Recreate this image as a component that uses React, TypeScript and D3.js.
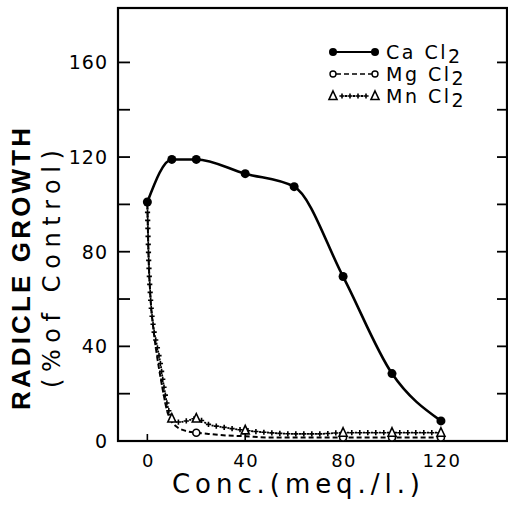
import React, { useEffect, useRef } from "react";
import * as d3 from "d3";

const caConc = [0, 10, 20, 40, 60, 80, 100, 120];
const caValues = [101, 119, 119, 113, 107.5, 69.5, 28.5, 8.5];

const mgConc = [0, 0.5, 1.2, 2.4, 3.8, 5.2, 6.6, 8, 9.5, 12, 15, 20, 25, 30, 40, 50, 60, 70, 80, 90, 100, 110, 120];
const mgValues = [100, 78, 62, 48, 37, 28, 20, 13, 9, 6, 4.5, 3.5, 3, 2.5, 2, 1.5, 1.5, 1.5, 1.5, 1.5, 1.5, 1.5, 1.5];
const mgMarkerConc = [20, 80, 100, 120];

const mnConc = [0, 0.5, 1.2, 2.5, 4, 5.3, 6.6, 7.8, 9, 10, 13, 16, 20, 25, 30, 40, 50, 60, 70, 80, 90, 100, 110, 120];
const mnValues = [100, 78, 62, 48, 40, 33, 24, 17, 12, 9.5, 8, 8.5, 9.5, 7, 6, 4.5, 3.5, 3, 3, 3.5, 3.5, 3.5, 3.5, 3.5];
const mnMarkerConc = [10, 20, 40, 80, 100, 120];

const yTicks = [0, 20, 40, 60, 80, 100, 120, 140, 160];
const yTickLabels = [0, 40, 80, 120, 160];
const xTicks = [0, 40, 80, 120];

const legendNames = ["Ca", "Mg", "Mn"];

export default function App() {
  const ref = useRef<SVGSVGElement | null>(null);

  useEffect(() => {
    const svg = d3.select(ref.current);
    svg.selectAll("*").remove();

    const x = d3.scaleLinear().domain([-12, 147]).range([118, 507]);
    const y = d3.scaleLinear().domain([0, 183]).range([441, 8]);

    const font = "'DejaVu Sans', sans-serif";

    svg.append("rect")
      .attr("x", 118).attr("y", 8)
      .attr("width", 389).attr("height", 433)
      .attr("fill", "none").attr("stroke", "#000").attr("stroke-width", 2.2);

    yTicks.forEach((t) => {
      svg.append("line").attr("x1", x(-12)).attr("x2", x(-12) + 12)
        .attr("y1", y(t)).attr("y2", y(t)).attr("stroke", "#000").attr("stroke-width", 1.8);
      svg.append("line").attr("x1", x(147)).attr("x2", x(147) - 10)
        .attr("y1", y(t)).attr("y2", y(t)).attr("stroke", "#000").attr("stroke-width", 1.8);
    });
    yTickLabels.forEach((t) => {
      svg.append("text").attr("x", 108).attr("y", y(t))
        .attr("text-anchor", "end").attr("dominant-baseline", "central")
        .attr("font-family", font).attr("font-size", 19).attr("letter-spacing", 1)
        .text(String(t));
    });
    xTicks.forEach((t) => {
      svg.append("line").attr("x1", x(t)).attr("x2", x(t))
        .attr("y1", y(0)).attr("y2", y(0) - 7).attr("stroke", "#000").attr("stroke-width", 1.6);
      svg.append("text").attr("x", x(t) + 1).attr("y", 467)
        .attr("text-anchor", "middle")
        .attr("font-family", font).attr("font-size", 18).attr("letter-spacing", 1.5)
        .text(String(t));
    });

    svg.append("text")
      .attr("transform", "translate(30,269) rotate(-90)")
      .attr("text-anchor", "middle")
      .attr("font-family", "'Liberation Sans', Arial, sans-serif").attr("font-weight", "bold").attr("font-size", 26)
      .attr("textLength", 282).attr("lengthAdjust", "spacing")
      .text("RADICLE GROWTH");
    svg.append("text")
      .attr("transform", "translate(60,269) rotate(-90)")
      .attr("text-anchor", "middle")
      .attr("font-family", font).attr("font-size", 24)
      .attr("textLength", 238).attr("lengthAdjust", "spacing")
      .text("(%of Control)");
    svg.append("text")
      .attr("x", 296).attr("y", 493)
      .attr("text-anchor", "middle")
      .attr("font-family", font).attr("font-size", 26)
      .attr("textLength", 248).attr("lengthAdjust", "spacing")
      .text("Conc.(meq./l.)");

    const line = d3.line<[number, number]>()
      .x((d) => x(d[0])).y((d) => y(d[1]))
      .curve(d3.curveMonotoneX);

    const caData = caConc.map((c, i) => [c, caValues[i]] as [number, number]);
    svg.append("path").attr("d", line(caData)!)
      .attr("fill", "none").attr("stroke", "#000").attr("stroke-width", 2.6);
    svg.selectAll(".ca").data(caData).enter().append("circle")
      .attr("cx", (d) => x(d[0])).attr("cy", (d) => y(d[1])).attr("r", 4.5).attr("fill", "#000");

    const mgData = mgConc.map((c, i) => [c, mgValues[i]] as [number, number]);
    svg.append("path").attr("d", line(mgData)!)
      .attr("fill", "none").attr("stroke", "#000").attr("stroke-width", 2)
      .attr("stroke-dasharray", "5,3");
    mgMarkerConc.forEach((c) => {
      const v = mgValues[mgConc.indexOf(c)];
      svg.append("circle").attr("cx", x(c)).attr("cy", y(v)).attr("r", 3.5)
        .attr("fill", "#fff").attr("stroke", "#000").attr("stroke-width", 1.6);
    });

    const plusLine = (d: string) => {
      const p = svg.append("path").attr("d", d)
        .attr("fill", "none").attr("stroke", "#000").attr("stroke-width", 1.8)
        .attr("stroke-dasharray", "0,3,2,3");
      const node = p.node() as SVGPathElement;
      const L = node.getTotalLength();
      for (let s = 0; s <= L; s += 8) {
        const pt = node.getPointAtLength(s);
        svg.append("path")
          .attr("d", `M${pt.x - 2.6},${pt.y}H${pt.x + 2.6}M${pt.x},${pt.y - 2.6}V${pt.y + 2.6}`)
          .attr("stroke", "#000").attr("stroke-width", 1.6);
      }
    };
    const tri = (cx: number, cy: number) => {
      svg.append("path")
        .attr("d", `M${cx},${cy - 5}L${cx + 4},${cy + 3.5}L${cx - 4},${cy + 3.5}Z`)
        .attr("fill", "#fff").attr("stroke", "#000").attr("stroke-width", 1.6);
    };

    const mnData = mnConc.map((c, i) => [c, mnValues[i]] as [number, number]);
    plusLine(line(mnData)!);
    mnMarkerConc.forEach((c) => {
      const v = mnValues[mnConc.indexOf(c)];
      tri(x(c), y(v));
    });

    const rows = [52, 74, 96];
    const lx1 = 333, lx2 = 375, tx = 386;
    legendNames.forEach((name, i) => {
      const ry = rows[i];
      if (i === 0) {
        svg.append("line").attr("x1", lx1).attr("x2", lx2).attr("y1", ry).attr("y2", ry)
          .attr("stroke", "#000").attr("stroke-width", 2);
        [lx1, lx2].forEach((cx) => svg.append("circle").attr("cx", cx).attr("cy", ry).attr("r", 4).attr("fill", "#000"));
      } else if (i === 1) {
        svg.append("line").attr("x1", lx1 + 3).attr("x2", lx2 - 3).attr("y1", ry).attr("y2", ry)
          .attr("stroke", "#000").attr("stroke-width", 1.6).attr("stroke-dasharray", "5,3");
        [lx1, lx2].forEach((cx) => svg.append("circle").attr("cx", cx).attr("cy", ry).attr("r", 3)
          .attr("fill", "#fff").attr("stroke", "#000").attr("stroke-width", 1.4));
      } else {
        plusLine(`M${lx1 + 9},${ry}H${lx2 - 8}`);
        tri(lx1, ry);
        tri(lx2, ry);
      }
      const t = svg.append("text").attr("x", tx).attr("y", ry + 7)
        .attr("font-family", font).attr("font-size", 19).attr("letter-spacing", 2.5);
      t.append("tspan").text(name + " Cl");
      t.append("tspan").attr("dy", 4).text("2");
    });
  }, []);

  return (
    <svg
      ref={ref}
      width={508}
      height={509}
      style={{ position: "absolute", left: 0, top: 0, background: "#fff" }}
    />
  );
}
